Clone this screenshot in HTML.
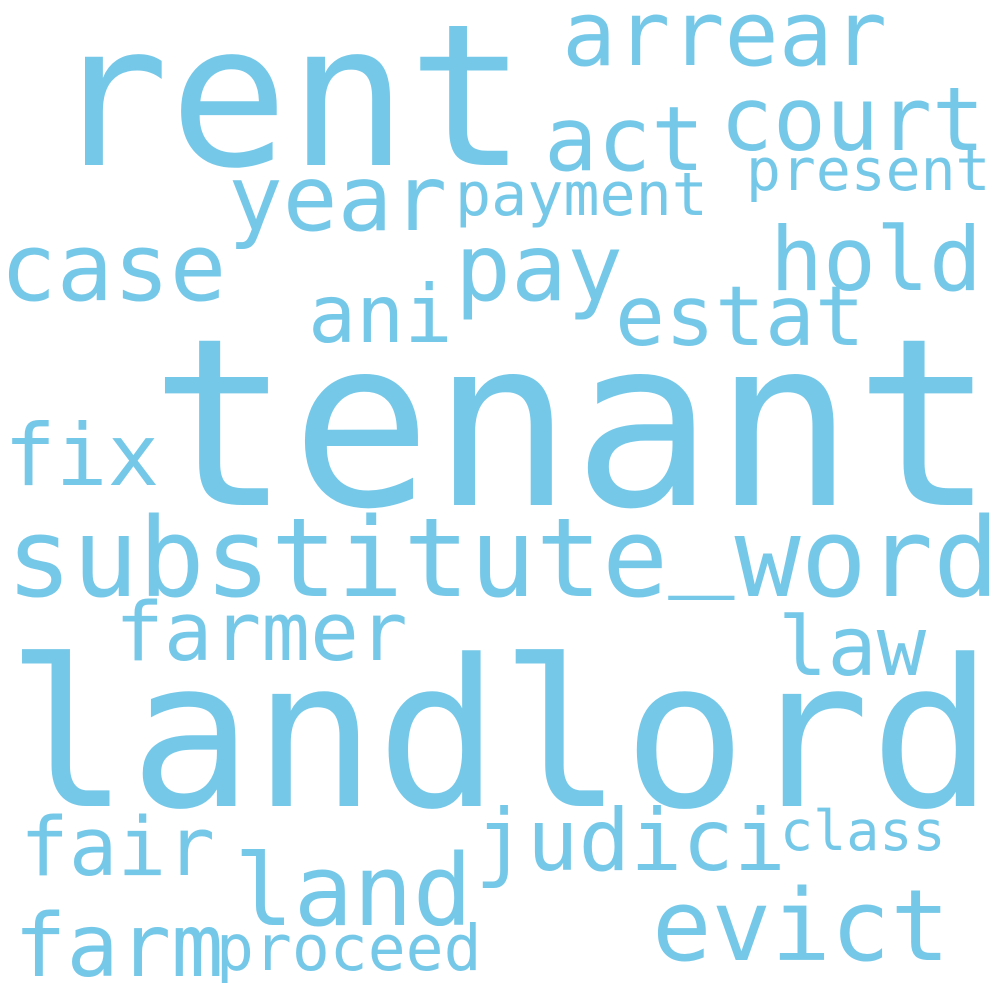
<!DOCTYPE html>
<html><head><meta charset="utf-8"><style>
html,body{margin:0;padding:0;background:#fff;}
svg{display:block}
text{font-family:"DejaVu Sans Mono","Liberation Mono",monospace;fill:#76c8e8;}
</style></head><body>
<svg width="1000" height="1000" viewBox="0 0 1000 1000">
<rect width="1000" height="1000" fill="#fff"/>
<script>
const words=["tenant","landlord","rent","substitute_word","arrear","court","act","present","year","payment","case","pay","hold","ani","estat","fix","farmer","law","fair","judici","class","land","evict","farm","proceed"];
const sizes=[234,205,198,110,90,88,89,58,91,60,94,93,88,80,83,86,81,82,81,86,55,99,99,87,63];
const xs=[150,6,50,6,562,720,544,746,228,455,0,455,770,308,615,4,115,778,20,475,780,234,652,14,216];
const ys=[505,806,165,596,65,150,170,190,230,215,300,300,290,342,345,485,660,675,875,870,850,925,960,976,970];
const ns="http://www.w3.org/2000/svg";
const svg=document.currentScript.parentNode;
words.forEach((w,i)=>{
 const t=document.createElementNS(ns,"text");
 
 
 t.setAttribute("x",xs[i]);t.setAttribute("y",ys[i]);
 t.setAttribute("font-size",sizes[i]);
 if(w.indexOf("_")>=0){
   const parts=w.split("_");
   const a=document.createElementNS(ns,"tspan");a.textContent=parts[0];t.appendChild(a);
   const u=document.createElementNS(ns,"tspan");u.setAttribute("dy",-22);u.textContent="_";t.appendChild(u);
   const b=document.createElementNS(ns,"tspan");b.setAttribute("dy",22);b.textContent=parts[1];t.appendChild(b);
 } else t.textContent=w;
 svg.appendChild(t);
});
</script>
</svg>
</body></html>
